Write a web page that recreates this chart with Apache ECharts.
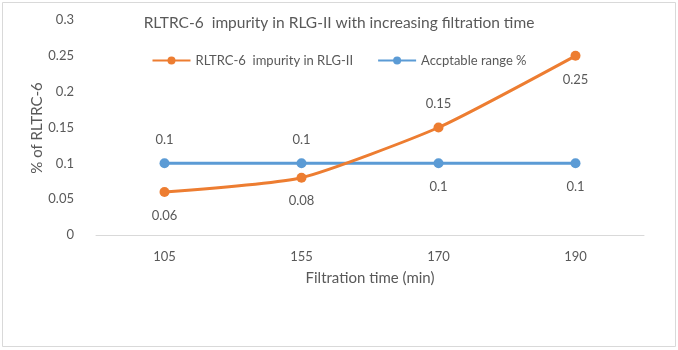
<!DOCTYPE html>
<html>
<head>
<meta charset="utf-8">
<script src="https://cdn.jsdelivr.net/npm/echarts@6/dist/echarts.min.js"></script>
<style>
  html, body { margin: 0; padding: 0; background: #fff; }
  #chart { width: 678px; height: 350px; }
</style>
</head>
<body>
<div id="chart"></div>
<script>
// ---------------- data ----------------
const categories = ["105", "155", "170", "190"];
const impurity = [0.06, 0.08, 0.15, 0.25];
const acceptable = [0.1, 0.1, 0.1, 0.1];
// label placement per point (as in the original)
const impurityLabelPos = ["bottom", "bottom", "top", "bottom"];
const acceptableLabelPos = ["top", "top", "bottom", "bottom"];

const FONT = "Lato";
const TEXT = "#595959";

function withLabels(values, positions) {
    return values.map((v, i) => ({ value: v, label: { position: positions[i] } }));
}

const chart = echarts.init(document.getElementById("chart"), null, { renderer: "canvas" });

chart.setOption({
    backgroundColor: "#fff",
    animation: false,
    textStyle: { fontFamily: FONT, color: TEXT },
    graphic: [
        {
            type: "rect",
            shape: { x: 2.5, y: 2.5, width: 673, height: 344 },
            style: { fill: "none", stroke: "#d9d9d9", lineWidth: 1 },
            silent: true,
        },
        {
            // y axis title, placed by hand so it sits where the original has it
            type: "text",
            x: 37,
            y: 128,
            rotation: Math.PI / 2,
            style: {
                text: "% of RLTRC-6",
                fontFamily: FONT,
                fontSize: 15,
                fill: TEXT,
                align: "center",
                verticalAlign: "middle",
            },
            silent: true,
        },
    ],
    title: {
        text: "RLTRC-6  impurity in RLG-II with increasing filtration time",
        left: 334,
        textAlign: "center",
        top: 10,
        textStyle: { fontFamily: FONT, fontSize: 15.5, fontWeight: "normal", color: TEXT },
    },
    legend: {
        top: 49,
        left: "center",
        itemWidth: 38,
        itemHeight: 10,
        itemGap: 24,
        textStyle: { fontFamily: FONT, fontSize: 13, color: TEXT },
        data: ["RLTRC-6  impurity in RLG-II", "Accptable range %"],
    },
    grid: { left: 96, right: 34, top: 20, bottom: 115 },
    xAxis: {
        type: "category",
        data: categories,
        name: "Filtration time (min)",
        nameLocation: "middle",
        nameGap: 36,
        nameTextStyle: { fontFamily: FONT, fontSize: 15, color: TEXT },
        axisLine: { lineStyle: { color: "#d9d9d9" } },
        axisTick: { show: false },
        axisLabel: { fontFamily: FONT, fontSize: 13, color: TEXT, margin: 15 },
    },
    yAxis: {
        type: "value",
        min: 0,
        max: 0.3,
        interval: 0.05,
        axisLine: { show: false },
        axisTick: { show: false },
        splitLine: { show: false },
        axisLabel: {
            fontFamily: FONT, fontSize: 13, color: TEXT, margin: 22,
            formatter: (v) => String(Math.round(v * 100) / 100),
        },
    },
    series: [
        {
            name: "RLTRC-6  impurity in RLG-II",
            type: "line",
            smooth: 0.18,
            data: withLabels(impurity, impurityLabelPos),
            symbol: "circle",
            symbolSize: 10,
            lineStyle: { color: "#ed7d31", width: 3 },
            itemStyle: { color: "#ed7d31" },
            label: { show: true, distance: 12, fontFamily: FONT, fontSize: 13, color: TEXT },
            z: 3,
        },
        {
            name: "Accptable range %",
            type: "line",
            data: withLabels(acceptable, acceptableLabelPos),
            symbol: "circle",
            symbolSize: 10,
            lineStyle: { color: "#5b9bd5", width: 3 },
            itemStyle: { color: "#5b9bd5" },
            label: { show: true, distance: 12, fontFamily: FONT, fontSize: 13, color: TEXT },
            z: 2,
        },
    ],
});
</script>
</body>
</html>
